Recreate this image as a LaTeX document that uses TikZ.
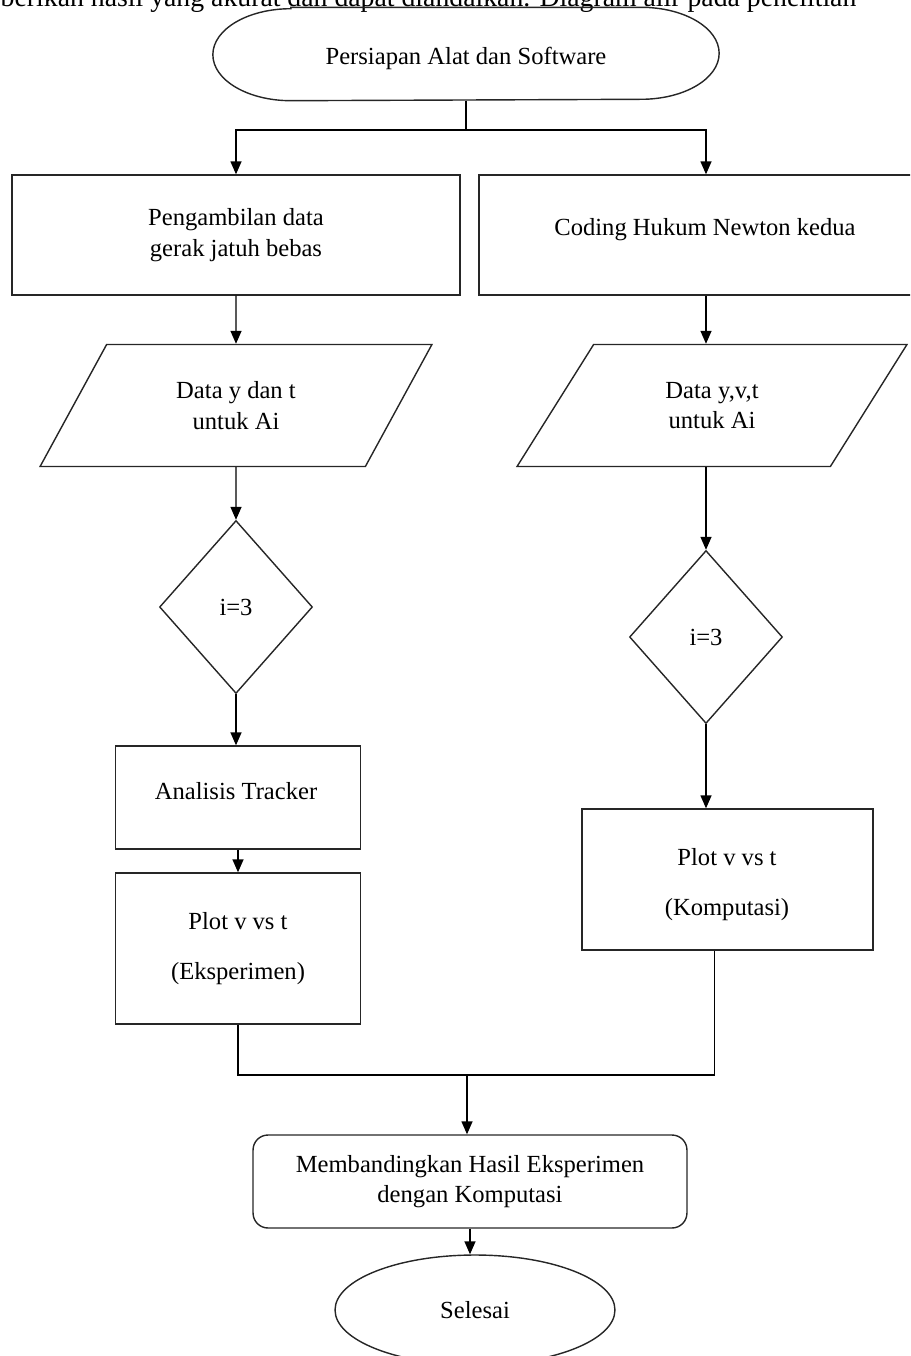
\documentclass[tikz,border=0pt]{standalone}
\usepackage{fontspec}
\setmainfont{Liberation Serif}
\usetikzlibrary{shapes,arrows.meta,calc}

\begin{document}
\begin{tikzpicture}[x=0.02cm, y=-0.02cm, line width=0.8pt,
        font=\fontsize{14}{17.5}\selectfont,
        block/.style={rectangle, draw=black!85, text centered, align=center, inner sep=0pt},
        roundbox/.style={block, rounded corners=0.3cm},
        io/.style={trapezium, trapezium stretches=true, trapezium left angle=57.4, trapezium right angle=122.6, draw=black!85, align=center, minimum width=7.84cm, minimum height=2.44cm, inner sep=0pt},
        decision/.style={diamond, draw=black!85, minimum width=3.06cm, minimum height=3.46cm, inner sep=0pt},
        terminal/.style={ellipse, draw=black!85, minimum width=5.6cm, minimum height=2.2cm, inner sep=0pt},
        flow/.style={draw=black, -{Triangle[length=2.6mm, width=2.2mm]}}]

        \useasboundingbox (0,0) rectangle (910,1356);
        \clip (0,0) rectangle (910,1356);

        \node[anchor=base west, inner sep=0pt, font=\fontsize{15.8}{19}\selectfont] (intro) at (0,6) {berikan hasil yang akurat dan dapat diandalkan. Diagram alir pada penelitian};

        \node[minimum width=10.1cm, minimum height=1.84cm] (start) at (466,54) {};
        \draw[draw=black!85] ([xshift=1.56cm]start.north west) -- ([xshift=-1.56cm]start.north east)
            arc[start angle=90, end angle=-90, x radius=1.56cm, y radius=0.92cm]
            -- ([xshift=1.56cm]start.south west)
            arc[start angle=270, end angle=90, x radius=1.56cm, y radius=0.92cm] -- cycle;
        \node (starttext) at (466,58) {Persiapan Alat dan Software};

        \node[block, minimum width=8.96cm, minimum height=2.4cm] (ambil) at (236,235) {Pengambilan data\\gerak jatuh bebas};
        \node[block, minimum width=9.24cm, minimum height=2.4cm] (coding) at (710,235) {};
        \node (codingtext) at (705,230) {Coding Hukum Newton kedua};
        \node[io] (dataA) at (236,405.5) {Data y dan t\\untuk Ai};
        \node[io] (dataB) at (712,405.5) {Data y,v,t\\untuk Ai};
        \node[decision] (condA) at (236,607) {i=3};
        \node[decision] (condB) at (706,637) {i=3};
        \node[block, minimum width=4.9cm, minimum height=2.06cm] (tracker) at (238,797.5) {};
        \node (trackertext) at (236,791) {Analisis Tracker};
        \node[block, minimum width=4.9cm, minimum height=3.02cm] (plotA) at (238,948.5) {Plot v vs t\\[11pt](Eksperimen)};
        \node[block, minimum width=5.82cm, minimum height=2.82cm] (plotB) at (727.5,879.5) {};
        \node[align=center] (plotBtext) at (727,885) {Plot v vs t\\[11pt](Komputasi)};
        \node[roundbox, minimum width=8.68cm, minimum height=1.86cm] (banding) at (470,1181.5) {Membandingkan Hasil Eksperimen\\dengan Komputasi};
        \node[terminal] (selesai) at (475,1310) {Selesai};

        \coordinate (split) at (466,130);
        \coordinate (merge) at (467,1075);

        \draw (start.south) -- (split);
        \draw[flow] (split) -| (ambil.north);
        \draw[flow] (split) -| ([xshift=-0.08cm]coding.north);
        \draw[flow] (ambil) -- (dataA);
        \draw[flow] ([xshift=-0.08cm]coding.south) -- ([xshift=-0.08cm]coding.south |- dataB.north);
        \draw[flow] (dataA) -- (condA);
        \draw[flow] (condB.north |- dataB.south) -- (condB.north);
        \draw[flow] (condA.south) -- (condA.south |- tracker.north);
        \draw[flow] (tracker) -- (plotA);
        \draw[flow] (condB.south) -- (condB.south |- plotB.north);
        \draw (plotA.south) |- (merge);
        \draw ([xshift=-0.26cm]plotB.south) |- (merge);
        \draw[flow] (merge) -- (merge |- banding.north);
        \draw[flow] (banding.south) -- (banding.south |- selesai.north);

    \end{tikzpicture}
\end{document}
